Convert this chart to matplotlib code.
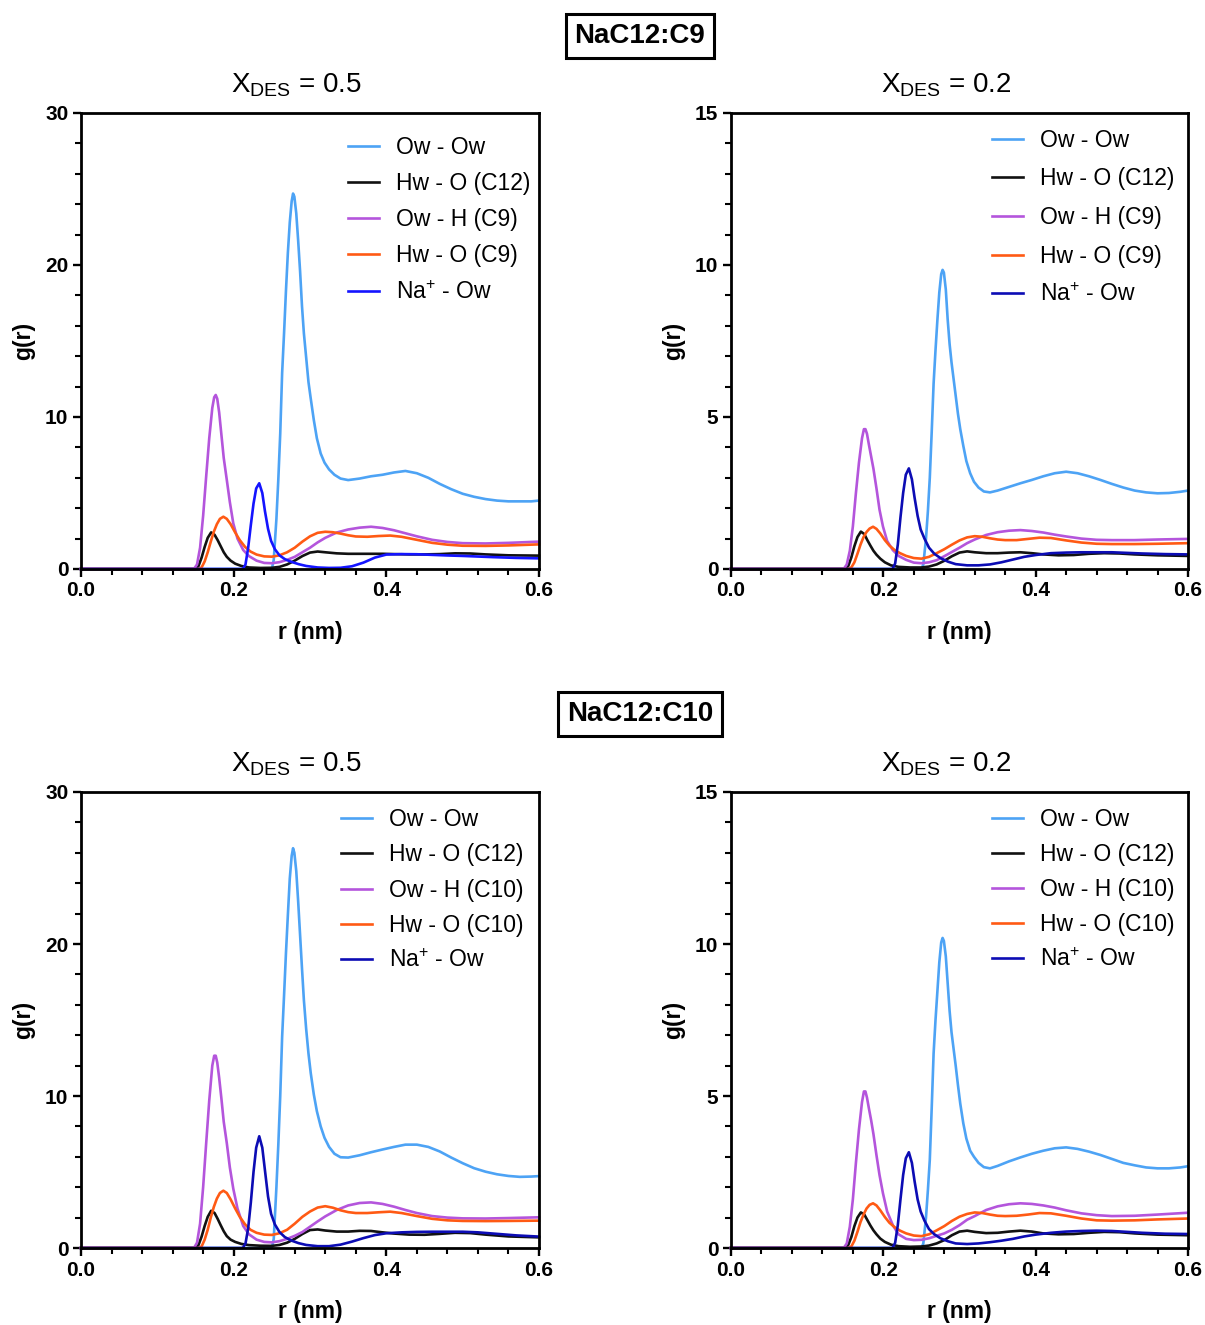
import matplotlib
matplotlib.use("Agg")
import matplotlib.pyplot as plt
from matplotlib.ticker import MultipleLocator

plt.rcParams['font.family'] = ['Liberation Sans', 'DejaVu Sans']
plt.rcParams['mathtext.fontset'] = 'custom'
plt.rcParams['mathtext.rm'] = 'Liberation Sans'
plt.rcParams['mathtext.it'] = 'Liberation Sans:italic'
plt.rcParams['mathtext.bf'] = 'Liberation Sans:bold'

# ---------------- data ----------------
# r grids (nm) shared by the same pair type across panels
R_OWOW = [0, 0.250, 0.2525, 0.256, 0.2585, 0.261, 0.2635, 0.266, 0.2685, 0.271, 0.2735, 0.276, 0.2778,
          0.2795, 0.282, 0.2845, 0.287, 0.2895, 0.292, 0.295, 0.298, 0.301, 0.305, 0.309, 0.314, 0.319,
          0.325, 0.332, 0.34, 0.35, 0.365, 0.38, 0.395, 0.41, 0.425, 0.44, 0.455, 0.47, 0.485, 0.50,
          0.515, 0.53, 0.545, 0.56, 0.575, 0.59, 0.6]
G_OWOW_C9_05 = [0, 0, 0.6, 3.3, 5.9, 8.9, 12.9, 15.5, 18.3, 20.8, 22.8, 24.2, 24.7,
                24.5, 23.4, 21.6, 19.6, 17.3, 15.5, 13.9, 12.3, 11.2, 9.8, 8.6, 7.6, 7.0,
                6.55, 6.2, 5.95, 5.85, 5.95, 6.1, 6.2, 6.35, 6.45, 6.3, 6.0, 5.6, 5.25, 4.95,
                4.75, 4.6, 4.5, 4.45, 4.45, 4.45, 4.5]
G_OWOW_C9_02 = [0, 0, 0.15, 1.0, 1.9, 3.0, 4.5, 6.1, 7.2, 8.2, 9.1, 9.7, 9.84,
                9.75, 9.2, 8.2, 7.4, 6.8, 6.3, 5.7, 5.1, 4.6, 4.05, 3.55, 3.15, 2.87,
                2.68, 2.55, 2.52, 2.58, 2.7, 2.82, 2.93, 3.05, 3.15, 3.2, 3.15, 3.05, 2.93, 2.8,
                2.68, 2.58, 2.52, 2.49, 2.5, 2.54, 2.58]
G_OWOW_C10_05 = [0, 0, 0.6, 4.0, 6.8, 10.0, 13.9, 16.6, 19.4, 21.9, 24.3, 25.8, 26.3,
                 26.0, 24.8, 22.8, 20.6, 18.4, 16.3, 14.4, 12.8, 11.5, 10.1, 9.0, 8.0, 7.25,
                 6.65, 6.2, 5.97, 5.95, 6.1, 6.3, 6.48, 6.65, 6.8, 6.8, 6.65, 6.35, 5.95, 5.58,
                 5.25, 5.02, 4.85, 4.74, 4.68, 4.7, 4.73]
G_OWOW_C10_02 = [0, 0, 0.15, 1.0, 1.9, 2.9, 4.6, 6.4, 7.5, 8.45, 9.4, 10.05, 10.2,
                 10.1, 9.6, 8.7, 7.8, 7.1, 6.6, 6.0, 5.35, 4.75, 4.1, 3.6, 3.2, 3.0,
                 2.8, 2.66, 2.62, 2.7, 2.85, 2.98, 3.1, 3.2, 3.28, 3.31, 3.26, 3.17, 3.06, 2.93,
                 2.8, 2.72, 2.65, 2.62, 2.62, 2.65, 2.69]

R_OWH = [0, 0.148, 0.152, 0.156, 0.16, 0.164, 0.168, 0.172, 0.1745, 0.1765, 0.1785, 0.181, 0.184,
         0.187, 0.191, 0.195, 0.1995, 0.205, 0.2125, 0.22, 0.23, 0.24, 0.25, 0.26, 0.27, 0.28, 0.29,
         0.30, 0.31, 0.32, 0.335, 0.35, 0.365, 0.38, 0.395, 0.41, 0.425, 0.44, 0.46, 0.48, 0.50,
         0.53, 0.56, 0.6]
G_OWH_C9_05 = [0, 0, 0.3, 1.4, 3.5, 6.1, 8.6, 10.6, 11.3, 11.45, 11.2, 10.3, 8.8,
               7.3, 5.86, 4.4, 3.0, 2.0, 1.25, 0.85, 0.55, 0.4, 0.38, 0.45, 0.6, 0.8, 1.1,
               1.4, 1.75, 2.05, 2.4, 2.6, 2.72, 2.78, 2.7, 2.55, 2.35, 2.15, 1.92, 1.78, 1.7,
               1.68, 1.72, 1.8]
G_OWH_C9_02 = [0, 0, 0.15, 0.6, 1.4, 2.5, 3.5, 4.3, 4.6, 4.6, 4.45, 4.1, 3.7,
               3.3, 2.65, 1.95, 1.4, 0.92, 0.62, 0.43, 0.3, 0.21, 0.19, 0.22, 0.29, 0.42, 0.56,
               0.7, 0.85, 0.97, 1.12, 1.21, 1.26, 1.28, 1.25, 1.2, 1.13, 1.07, 1.0, 0.96, 0.95,
               0.95, 0.97, 0.99]
G_OWH_C10_05 = [0, 0, 0.35, 1.6, 4.0, 6.9, 9.7, 12.0, 12.65, 12.65, 12.2, 11.2, 9.8,
                8.3, 6.9, 5.3, 3.9, 2.6, 1.45, 0.9, 0.55, 0.4, 0.37, 0.45, 0.6, 0.8, 1.05,
                1.4, 1.75, 2.08, 2.5, 2.8, 2.96, 3.0, 2.9, 2.72, 2.5, 2.3, 2.1, 2.0, 1.95,
                1.94, 1.97, 2.02]
G_OWH_C10_02 = [0, 0, 0.15, 0.7, 1.6, 2.8, 3.9, 4.8, 5.15, 5.15, 4.95, 4.6, 4.2,
                3.75, 3.05, 2.4, 1.8, 1.2, 0.75, 0.45, 0.3, 0.26, 0.27, 0.32, 0.4, 0.48, 0.6,
                0.75, 0.93, 1.05, 1.25, 1.37, 1.44, 1.47, 1.45, 1.4, 1.33, 1.24, 1.14, 1.08, 1.05,
                1.06, 1.1, 1.16]

R_HWO = [0, 0.154, 0.158, 0.162, 0.166, 0.17, 0.174, 0.178, 0.182, 0.1865, 0.191, 0.196, 0.202,
         0.208, 0.215, 0.222, 0.23, 0.24, 0.25, 0.26, 0.27, 0.28, 0.29, 0.30, 0.31, 0.32, 0.33,
         0.34, 0.35, 0.36, 0.375, 0.39, 0.405, 0.42, 0.44, 0.46, 0.48, 0.50, 0.53, 0.56, 0.6]
G_HWO_C9_05 = [0, 0, 0.1, 0.5, 1.1, 1.8, 2.45, 2.95, 3.3, 3.44, 3.3, 2.95, 2.4,
               1.9, 1.45, 1.15, 0.95, 0.83, 0.81, 0.9, 1.1, 1.4, 1.8, 2.15, 2.38, 2.45, 2.42,
               2.33, 2.22, 2.14, 2.12, 2.17, 2.2, 2.12, 1.92, 1.72, 1.6, 1.53, 1.52, 1.55, 1.62]
G_HWO_C9_02 = [0, 0, 0.05, 0.22, 0.5, 0.8, 1.05, 1.22, 1.33, 1.39, 1.32, 1.17, 0.95,
               0.77, 0.62, 0.52, 0.43, 0.36, 0.34, 0.4, 0.52, 0.65, 0.8, 0.94, 1.04, 1.08, 1.06,
               1.01, 0.97, 0.95, 0.95, 0.99, 1.03, 1.02, 0.94, 0.87, 0.83, 0.82, 0.82, 0.83, 0.85]
G_HWO_C10_05 = [0, 0, 0.1, 0.55, 1.2, 2.0, 2.7, 3.25, 3.62, 3.77, 3.62, 3.2, 2.6,
                2.05, 1.55, 1.2, 1.0, 0.88, 0.86, 0.97, 1.2, 1.6, 2.05, 2.4, 2.66, 2.75, 2.65,
                2.48, 2.36, 2.3, 2.3, 2.35, 2.39, 2.3, 2.1, 1.92, 1.82, 1.78, 1.77, 1.78, 1.8]
G_HWO_C10_02 = [0, 0, 0.05, 0.24, 0.53, 0.85, 1.1, 1.3, 1.42, 1.47, 1.4, 1.24, 1.02,
                0.83, 0.68, 0.57, 0.48, 0.41, 0.39, 0.45, 0.58, 0.72, 0.89, 1.03, 1.12, 1.17, 1.15,
                1.1, 1.06, 1.05, 1.06, 1.1, 1.15, 1.14, 1.06, 0.97, 0.91, 0.9, 0.91, 0.94, 0.97]

R_HWOC12 = [0, 0.15, 0.154, 0.158, 0.162, 0.166, 0.1705, 0.175, 0.179, 0.183, 0.187, 0.191, 0.196,
            0.202, 0.21, 0.22, 0.235, 0.25, 0.26, 0.27, 0.28, 0.29, 0.30, 0.31, 0.32, 0.335, 0.35,
            0.365, 0.38, 0.395, 0.41, 0.43, 0.45, 0.47, 0.49, 0.51, 0.53, 0.56, 0.6]
G_HWOC12_C9_05 = [0, 0, 0.2, 0.75, 1.45, 2.05, 2.41, 2.25, 1.9, 1.5, 1.1, 0.8, 0.55,
                  0.35, 0.2, 0.1, 0.07, 0.08, 0.14, 0.3, 0.55, 0.85, 1.08, 1.15, 1.1, 1.03, 1.0,
                  1.0, 1.0, 1.0, 0.98, 0.96, 0.96, 0.98, 1.03, 1.02, 0.96, 0.9, 0.88]
G_HWOC12_C9_02 = [0, 0, 0.1, 0.38, 0.75, 1.05, 1.23, 1.15, 0.95, 0.77, 0.6, 0.47, 0.34,
                  0.22, 0.12, 0.07, 0.05, 0.05, 0.08, 0.15, 0.27, 0.42, 0.54, 0.58, 0.55, 0.52, 0.52,
                  0.54, 0.55, 0.52, 0.48, 0.45, 0.46, 0.5, 0.52, 0.51, 0.48, 0.45, 0.43]
G_HWOC12_C10_05 = [0, 0, 0.2, 0.75, 1.45, 2.05, 2.45, 2.3, 1.92, 1.5, 1.1, 0.78, 0.55,
                   0.4, 0.27, 0.19, 0.15, 0.14, 0.2, 0.35, 0.6, 0.92, 1.18, 1.22, 1.15, 1.08, 1.08,
                   1.13, 1.12, 1.03, 0.95, 0.88, 0.87, 0.93, 1.0, 0.98, 0.88, 0.76, 0.7]
G_HWOC12_C10_02 = [0, 0, 0.1, 0.36, 0.72, 1.0, 1.17, 1.1, 0.92, 0.74, 0.58, 0.45, 0.31,
                   0.2, 0.11, 0.06, 0.04, 0.05, 0.08, 0.15, 0.26, 0.42, 0.54, 0.57, 0.53, 0.49, 0.5,
                   0.54, 0.57, 0.54, 0.48, 0.45, 0.46, 0.5, 0.53, 0.52, 0.48, 0.44, 0.42]

R_NA = [0, 0.212, 0.2155, 0.219, 0.2225, 0.226, 0.2295, 0.2335, 0.2375, 0.241, 0.245, 0.249, 0.254,
        0.26, 0.267, 0.275, 0.285, 0.295, 0.31, 0.325, 0.34, 0.355, 0.37, 0.385, 0.40, 0.42, 0.44,
        0.46, 0.48, 0.50, 0.52, 0.54, 0.57, 0.6]
G_NA_C9_05 = [0, 0, 0.3, 1.4, 2.9, 4.3, 5.3, 5.64, 5.0, 3.8, 2.65, 1.85, 1.3,
              0.9, 0.65, 0.48, 0.32, 0.2, 0.1, 0.07, 0.08, 0.18, 0.42, 0.75, 0.95, 0.98, 0.97,
              0.93, 0.89, 0.86, 0.82, 0.78, 0.73, 0.7]
G_NA_C9_02 = [0, 0, 0.18, 0.8, 1.7, 2.5, 3.1, 3.31, 2.95, 2.35, 1.75, 1.3, 1.0,
              0.7, 0.5, 0.36, 0.24, 0.16, 0.12, 0.12, 0.15, 0.22, 0.31, 0.4, 0.46, 0.52, 0.54,
              0.55, 0.55, 0.55, 0.53, 0.51, 0.49, 0.48]
G_NA_C10_05 = [0, 0, 0.3, 1.3, 3.0, 5.0, 6.6, 7.35, 6.6, 5.1, 3.4, 2.25, 1.55,
               1.05, 0.72, 0.5, 0.32, 0.2, 0.12, 0.12, 0.22, 0.42, 0.65, 0.85, 0.97, 1.03, 1.06,
               1.07, 1.07, 1.07, 1.03, 0.95, 0.83, 0.75]
G_NA_C10_02 = [0, 0, 0.17, 0.75, 1.6, 2.4, 2.95, 3.15, 2.8, 2.2, 1.6, 1.2, 0.9,
               0.62, 0.45, 0.32, 0.22, 0.15, 0.13, 0.15, 0.19, 0.24, 0.3, 0.38, 0.44, 0.5, 0.54,
               0.56, 0.57, 0.56, 0.53, 0.5, 0.47, 0.46]

PANEL_TITLES = ["0.5", "0.2", "0.5", "0.2"]
SYSTEMS = ["NaC12:C9", "NaC12:C10"]
YMAX = [30, 15, 30, 15]
X_TICKS = [0.0, 0.2, 0.4, 0.6]

# ---------------- styling ----------------
C_OWOW = "#4da3f5"
C_BLACK = "#111111"
C_PURPLE = "#b455dc"
C_ORANGE = "#ff5a14"
C_NA = ["#1414ff", "#0c0cb4", "#0c0cb4", "#0c0cb4"]

panels = [
    (G_OWOW_C9_05, G_HWOC12_C9_05, G_OWH_C9_05, G_HWO_C9_05, G_NA_C9_05, "C9"),
    (G_OWOW_C9_02, G_HWOC12_C9_02, G_OWH_C9_02, G_HWO_C9_02, G_NA_C9_02, "C9"),
    (G_OWOW_C10_05, G_HWOC12_C10_05, G_OWH_C10_05, G_HWO_C10_05, G_NA_C10_05, "C10"),
    (G_OWOW_C10_02, G_HWOC12_C10_02, G_OWH_C10_02, G_HWO_C10_02, G_NA_C10_02, "C10"),
]

W, H = 1205, 1325
fig = plt.figure(figsize=(W / 100, H / 100), dpi=100)

ax_px = [(81, 113, 539, 569), (731, 113, 1188, 569),
         (81, 792, 539, 1248), (731, 792, 1188, 1248)]
leg_anchor = [(0.562, 0.970), (0.551, 0.986), (0.547, 0.985), (0.551, 0.985)]
leg_spacing = [0.575, 0.685, 0.535, 0.52]

lw = 1.9
for i, (x0, y0, x1, y1) in enumerate(ax_px):
    ax = fig.add_axes([x0 / W, 1 - y1 / H, (x1 - x0) / W, (y1 - y0) / H])
    g_owow, g_c12, g_owh, g_hwo, g_na, sfx = panels[i]
    ax.plot(R_OWOW, g_owow, color=C_OWOW, lw=lw, label="Ow - Ow", clip_on=False)
    ax.plot(R_HWOC12, g_c12, color=C_BLACK, lw=lw, label="Hw - O (C12)", clip_on=False)
    ax.plot(R_OWH, g_owh, color=C_PURPLE, lw=lw, label=f"Ow - H ({sfx})", clip_on=False)
    ax.plot(R_HWO, g_hwo, color=C_ORANGE, lw=lw, label=f"Hw - O ({sfx})", clip_on=False)
    ax.plot(R_NA, g_na, color=C_NA[i], lw=lw, label=r"Na$^{+}$ - Ow", clip_on=False)

    ax.set_xlim(0, 0.6)
    ax.set_ylim(0, YMAX[i])
    ax.set_xticks(X_TICKS)
    ax.set_xticklabels([f"{v:.1f}" for v in X_TICKS])
    ax.xaxis.set_minor_locator(MultipleLocator(0.04))
    if YMAX[i] == 30:
        ax.yaxis.set_major_locator(MultipleLocator(10))
        ax.yaxis.set_minor_locator(MultipleLocator(2))
    else:
        ax.yaxis.set_major_locator(MultipleLocator(5))
        ax.yaxis.set_minor_locator(MultipleLocator(1))
    ax.tick_params(which='major', direction='out', length=6, width=1.7, labelsize=15, pad=3)
    ax.tick_params(which='minor', direction='out', length=4, width=1.5)
    for lab in ax.get_xticklabels() + ax.get_yticklabels():
        lab.set_fontweight('bold')
    for sp in ax.spines.values():
        sp.set_linewidth(2.0)

    ax.set_xlabel("r (nm)", fontsize=16.5, fontweight='bold', labelpad=15)
    ax.set_ylabel("g(r)", fontsize=16.5, fontweight='bold', labelpad=7)
    ax.set_title(r"X$_{\mathregular{DES}}$ = " + PANEL_TITLES[i], fontsize=20, pad=15,
                 x=0.47)

    ax.legend(loc='upper left', bbox_to_anchor=leg_anchor[i], frameon=False,
              fontsize=16.5, handlelength=1.35, handletextpad=0.75,
              labelspacing=leg_spacing[i], borderaxespad=0.0)

for txt, yc in zip(SYSTEMS, [36, 714]):
    fig.text(640 / W, 1 - yc / H, txt, ha='center', va='center', fontsize=20,
             fontweight='bold',
             bbox=dict(boxstyle='square,pad=0.32', fc='white', ec='black', lw=2.2))

fig.savefig("out.png", dpi=100)
